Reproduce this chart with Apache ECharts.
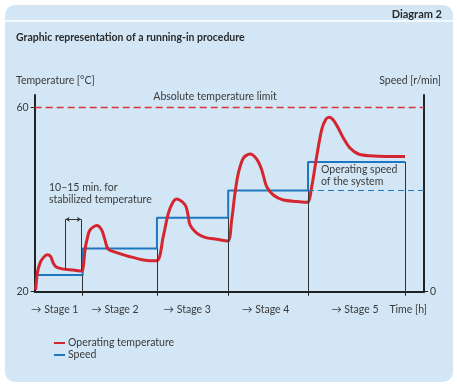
<!DOCTYPE html>
<html><head><meta charset="utf-8">
<script src="https://cdn.jsdelivr.net/npm/echarts@6/dist/echarts.min.js"></script>
<style>html,body{margin:0;padding:0;background:#fff}#c{width:457px;height:389px}</style>
</head><body><div id="c"></div>
<script>
// Operating temperature [°C] vs time (0..100 = full time axis)
const tempTime = [0.26,0.67,1.36,2.21,3.24,4.11,4.78,5.65,7.35,9.92,12.07,12.48,12.92,13.51,14.2,15.93,17.21,18.06,18.91,21.06,24.48,27.9,31.34,33.03,34.32,35.6,36.48,37.76,38.86,39.46,39.89,41.61,43.75,46.75,49.58,50.6,51.45,52.3,53.58,55.3,57.03,58.31,59.59,61.29,63.86,67.3,70.02,71.15,72.44,73.72,74.83,75.67,76.7,77.99,79.27,80.99,83.12,86.13,90.42,95.12];
const tempValues = [20.4,24.0,26.2,27.4,28.0,27.6,26.2,25.3,24.9,24.7,24.5,25.4,29.1,31.6,33.4,34.35,33.4,31.2,29.2,28.5,27.6,26.9,26.7,32.0,37.0,39.6,40.15,39.6,38.5,36.3,34.5,32.7,31.8,31.4,31.0,35.6,41.4,45.7,49.0,49.9,48.8,46.5,42.8,41.0,39.9,39.6,39.4,42.8,49.4,55.2,57.5,57.9,57.3,55.5,53.4,51.2,49.9,49.5,49.35,49.35];
// Speed steps (relative 0..100 of speed axis)
const stageStart = [0.67,12.33,31.4,49.7,70.2,95.2];
const speedLevels = [8.5,21.9,37.6,51.45,65.9,65.9];
const stageLineLevels = [8.5,21.9,37.6,51.45,65.9]; // vertical stage lines from axis up to speed
const stageLineTimes = [12.33,31.4,49.7,70.2,95.2];
const operatingSpeed = 51.45;
const tempLimit = 60;
const limitSpan = [0,100];
const tempTicks = [20,60];
const speedTicks = [0];
const xLabelPos = [5.16,20.63,39.17,59.33,82.23,95.94];
const xLabels = ['→ Stage 1','→ Stage 2','→ Stage 3','→ Stage 4','→ Stage 5','Time [h]'];
// stabilisation bracket (in speed-axis units)
const bracketT = [7.95,11.89];
const bracketTop = 36.8;
const bracketBottom = [11.4,11.0];

const FONT = 'Lato,"Liberation Sans",Arial,sans-serif';
const FS = 10.5;
const RED = '#d52630', BLUE = '#1f78bf', TXT = '#3a3a3a', LIMIT = '#e0303a';

const chart = echarts.init(document.getElementById('c'), null, {renderer:'canvas'});
const tempData = tempTime.map((t,i)=>[t,tempValues[i]]);
const speedData = stageStart.map((t,i)=>[t,speedLevels[i]]);
const limitData = limitSpan.map(t=>[t,tempLimit]);

chart.setOption({
  animation:false,
  textStyle:{fontFamily:FONT},
  graphic:[
    {type:'rect', z:-10, shape:{x:5,y:5,width:448,height:377,r:10}, style:{fill:'#d2e6f5'}},
    {type:'line', z:-9, shape:{x1:5,y1:21,x2:453,y2:21}, style:{stroke:'#ffffff',lineWidth:1.5}},
    {type:'text', x:442, y:14, style:{text:'Diagram 2', fontFamily:FONT, fontSize:11, fontWeight:'bold', fill:'#2b2b2b', align:'right', verticalAlign:'middle'}},
    {type:'text', x:16, y:37.5, style:{text:'Graphic representation of a running-in procedure', fontFamily:FONT, fontSize:FS, fontWeight:'bold', fill:'#2b2b2b', align:'left', verticalAlign:'middle'}},
    {type:'text', x:16, y:81, style:{text:'Temperature [°C]', fontFamily:FONT, fontSize:FS, fill:TXT, align:'left', verticalAlign:'middle'}},
    {type:'text', x:441, y:81, style:{text:'Speed [r/min]', fontFamily:FONT, fontSize:FS, fill:TXT, align:'right', verticalAlign:'middle'}},
    {type:'text', x:215, y:97, style:{text:'Absolute temperature limit', fontFamily:FONT, fontSize:FS, fill:TXT, align:'center', verticalAlign:'middle'}},
    {type:'text', x:49, y:188, style:{text:'10–15 min. for', fontFamily:FONT, fontSize:FS, fill:TXT, align:'left', verticalAlign:'middle'}},
    {type:'text', x:49, y:199.5, style:{text:'stabilized temperature', fontFamily:FONT, fontSize:FS, fill:TXT, align:'left', verticalAlign:'middle'}},
    {type:'text', x:321, y:170, style:{text:'Operating speed', fontFamily:FONT, fontSize:FS, fill:TXT, align:'left', verticalAlign:'middle'}},
    {type:'text', x:321, y:181.5, style:{text:'of the system', fontFamily:FONT, fontSize:FS, fill:TXT, align:'left', verticalAlign:'middle'}}
  ],
  legend:{
    orient:'vertical', left:54, top:337, padding:0, itemGap:0,
    icon:'rect', itemWidth:11, itemHeight:2,
    textStyle:{fontFamily:FONT, fontSize:FS, color:TXT, lineHeight:12, padding:[0,0,0,-2]},
    data:['Operating temperature','Speed']
  },
  grid:{left:34.7, right:33, top:95, bottom:97.3, containLabel:false},
  xAxis:{
    type:'value', min:0, max:100,
    axisLine:{lineStyle:{color:'#222',width:2}},
    axisTick:{show:true, customValues:stageLineTimes, length:4, lineStyle:{color:'#222',width:1}},
    axisLabel:{customValues:xLabelPos, margin:12, color:TXT, fontFamily:FONT, fontSize:FS,
      formatter:(v)=>{const i=xLabelPos.findIndex(p=>Math.abs(p-v)<1e-6);return i>=0?xLabels[i]:'';}},
    splitLine:{show:false}
  },
  yAxis:[
    {type:'value', min:20, max:62.714, position:'left',
     axisLine:{show:true, lineStyle:{color:'#222',width:2}},
     axisTick:{show:true, customValues:tempTicks, length:4, lineStyle:{color:'#222'}},
     axisLabel:{customValues:tempTicks, margin:6, color:TXT, fontFamily:FONT, fontSize:FS},
     splitLine:{show:false}},
    {type:'value', min:0, max:100, position:'right',
     axisLine:{show:true, lineStyle:{color:'#222',width:2}},
     axisTick:{show:true, customValues:speedTicks, length:4, lineStyle:{color:'#222'}},
     axisLabel:{customValues:speedTicks, margin:6, color:TXT, fontFamily:FONT, fontSize:FS},
     splitLine:{show:false}}
  ],
  series:[
    {name:'limit', type:'line', yAxisIndex:0, data:limitData, showSymbol:false, z:2, silent:true,
     lineStyle:{color:LIMIT,width:1.5,type:[7,4]}, itemStyle:{color:LIMIT}},
    {name:'Speed', type:'line', yAxisIndex:1, step:'end', data:speedData, showSymbol:false, z:3,
     lineStyle:{color:BLUE,width:2}, itemStyle:{color:BLUE},
     markLine:{silent:true, symbol:'none', animation:false, label:{show:false},
       lineStyle:{color:'#333',width:1,type:'solid'},
       data: stageLineTimes.map((t,i)=>[
         {coord:[t,0]},
         {coord:[t,stageLineLevels[i]]}
       ]).concat([
         [{coord:[stageStart[4],operatingSpeed], lineStyle:{color:BLUE,width:1,type:[6,4]}},{coord:[100,operatingSpeed]}],
         [{coord:[bracketT[0],bracketTop]},{coord:[bracketT[0],bracketBottom[0]]}],
         [{coord:[bracketT[1],bracketTop]},{coord:[bracketT[1],bracketBottom[1]]}],
         [{coord:[bracketT[0],bracketTop], symbol:'arrow', symbolSize:[4,4]},{coord:[bracketT[1],bracketTop], symbol:'arrow', symbolSize:[4,4]}]
       ])
     }},
    {name:'Operating temperature', type:'line', yAxisIndex:0, smooth:0.3, data:tempData, showSymbol:false, z:4,
     lineStyle:{color:RED,width:3}, itemStyle:{color:RED}}
  ]
});
</script></body></html>
